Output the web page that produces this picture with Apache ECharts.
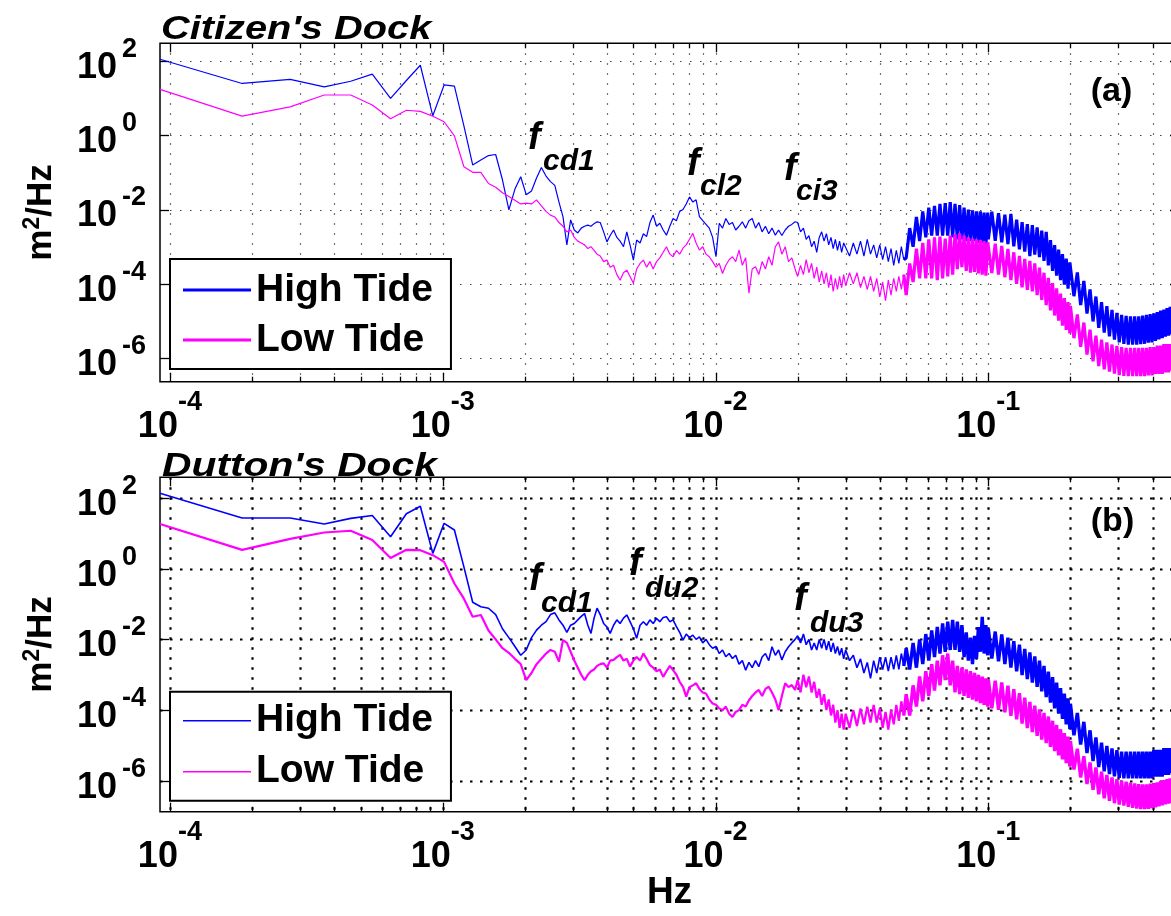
<!DOCTYPE html>
<html>
<head>
<meta charset="utf-8">
<script src="https://cdn.jsdelivr.net/npm/echarts@6/dist/echarts.min.js"></script>
<style>
html,body{margin:0;padding:0;background:#fff;}
#chart{width:1171px;height:916px;}
</style>
</head>
<body>
<div id="chart"></div>
<script>
// ---------------- DATA ----------------
// Frequency bins (Hz), shared by all four spectra
const freqHz = [
 9.2e-5,1.84e-4,2.76e-4,3.68e-4,4.6e-4,5.52e-4,6.44e-4,7.36e-4,8.28e-4,9.2e-4,
 1.012e-3,1.104e-3,1.196e-3,1.288e-3,1.38e-3,1.472e-3,1.564e-3,1.656e-3,1.748e-3,1.84e-3,
 1.932e-3,2.024e-3,2.116e-3,2.208e-3,2.3e-3,2.392e-3,2.484e-3,2.576e-3,2.668e-3,2.76e-3,
 2.852e-3,2.944e-3,3.036e-3,3.128e-3,3.22e-3,3.312e-3,3.404e-3,3.496e-3,3.588e-3,3.68e-3,
 3.78e-3,3.89e-3,4.0e-3,4.11e-3,4.23e-3,4.35e-3,4.47e-3,4.6e-3,4.73e-3,4.86e-3,
 5.0e-3,5.14e-3,5.29e-3,5.44e-3,5.59e-3,5.75e-3,5.91e-3,6.08e-3,6.25e-3,6.43e-3,
 6.61e-3,6.8e-3,6.99e-3,7.19e-3,7.39e-3,7.6e-3,7.81e-3,8.03e-3,8.26e-3,8.49e-3,
 8.73e-3,8.98e-3,9.23e-3,9.49e-3,9.76e-3,1.004e-2,1.032e-2,1.061e-2,1.091e-2,1.122e-2,
 1.154e-2,1.186e-2,1.22e-2,1.254e-2,1.29e-2,1.326e-2,1.363e-2,1.402e-2,1.441e-2,1.482e-2,
 1.524e-2,1.567e-2,1.611e-2,1.657e-2,1.703e-2,1.751e-2,1.801e-2,1.852e-2,1.904e-2,1.958e-2,
 0.0200,0.0205,0.0210,0.0215,0.0220,0.0225,0.0230,0.0235,0.0240,0.0245,
 0.0250,0.0255,0.0260,0.0265,0.0270,0.0275,0.0280,0.0285,0.0290,0.0295,
 0.030,0.031,0.032,0.033,0.034,0.035,0.036,0.037,0.038,0.039,
 0.040,0.041,0.042,0.043,0.044,0.045,0.046,0.047,0.048,0.049,
 0.0500,0.0515,0.0530,0.0545,0.0560,0.0575,0.0590,0.0605,0.0620,0.0635,
 0.0650,0.0665,0.0680,0.0695,0.0710,0.0725,0.0740,0.0755,0.0770,0.0785,
 0.0800,0.0815,0.0830,0.0845,0.0860,0.0875,0.0890,0.0905,0.0920,0.0935,
 0.0950,0.0965,0.0980,0.0995,
 0.100,0.103,0.106,0.109,0.112,0.115,0.118,0.121,0.124,0.127,
 0.130,0.133,0.136,0.139,0.142,0.145,0.148,0.151,0.154,0.157,
 0.160,0.163,0.166,0.169,0.172,0.175,0.178,0.181,0.184,0.187,
 0.190,0.193,0.196,0.199,
 0.200,0.206,0.212,0.218,0.224,0.230,0.236,0.242,0.248,0.254,
 0.260,0.266,0.272,0.278,0.284,0.290,0.296,0.302,0.308,0.314,
 0.320,0.326,0.332,0.338,0.344,0.350,0.356,0.362,0.368,0.374,
 0.380,0.386,0.392,0.398,0.404,0.410,0.416,0.422,0.428,0.434,
 0.440,0.446,0.452,0.458,0.464,0.470,0.476,0.482,0.488,0.494,
 0.500
];

// PSD values, stored as log10(m^2/Hz)
const citizenHighTideLog10 = [
 2.04,1.39,1.50,1.30,1.45,1.64,0.99,1.47,1.88,0.52,
 1.35,1.32,0.25,-0.80,-0.67,-0.55,-0.52,-1.20,-2.01,-1.45,
 -1.12,-1.60,-1.50,-1.15,-0.87,-1.10,-1.25,-1.35,-1.80,-2.19,
 -2.95,-2.28,-2.55,-2.63,-2.50,-2.45,-2.42,-2.45,-2.38,-2.33,
 -2.35,-2.60,-2.87,-2.70,-2.55,-2.75,-2.85,-3.00,-2.60,-2.95,
 -3.36,-2.82,-2.90,-2.65,-2.73,-2.35,-2.15,-2.45,-2.37,-2.55,
 -2.69,-2.45,-2.24,-2.30,-2.05,-2.00,-1.85,-1.66,-1.80,-1.74,
 -2.19,-2.30,-2.40,-2.50,-2.75,-3.27,-2.37,-2.50,-2.24,-2.40,
 -2.35,-2.55,-2.45,-2.33,-2.50,-2.30,-2.24,-2.50,-2.35,-2.60,
 -2.45,-2.65,-2.50,-2.69,-2.55,-2.70,-2.55,-2.45,-2.40,-2.33,
 -2.35,-2.60,-2.50,-2.80,-2.70,-3.00,-2.85,-3.15,-2.75,-2.60,
 -2.85,-2.65,-2.95,-2.75,-3.05,-2.80,-3.10,-2.85,-3.15,-2.90,
 -2.85,-3.25,-2.90,-3.20,-2.85,-3.25,-2.80,-3.20,-2.95,-3.30,
 -2.95,-3.35,-3.00,-3.40,-3.05,-3.50,-3.10,-3.45,-3.00,-3.35,
 -3.30,-2.50,-3.00,-2.20,-2.85,-2.05,-2.75,-1.95,-2.70,-1.90,
 -2.70,-1.85,-2.70,-1.83,-2.70,-1.80,-2.75,-1.85,-2.80,-1.88,
 -2.80,-1.95,-2.85,-2.00,-2.85,-2.02,-2.85,-2.05,-2.90,-2.05,
 -2.90,-2.08,-2.95,-2.08,
 -2.80,-2.06,-2.84,-2.10,-2.88,-2.14,-2.93,-2.12,-2.99,-2.27,
 -3.07,-2.34,-3.13,-2.39,-3.25,-2.42,-3.21,-2.48,-3.28,-2.57,
 -3.38,-2.60,-3.50,-2.82,-3.65,-2.96,-3.78,-3.08,-3.90,-3.20,
 -4.02,-3.32,-4.13,-3.42,
 -3.45,-4.33,-3.69,-4.57,-3.92,-4.80,-4.15,-5.01,-4.34,-5.18,
 -4.49,-5.31,-4.60,-5.41,-4.70,-5.50,-4.78,-5.57,-4.83,-5.61,
 -4.86,-5.63,-4.87,-5.63,-4.87,-5.63,-4.87,-5.62,-4.85,-5.61,
 -4.83,-5.58,-4.81,-5.57,-4.79,-5.53,-4.76,-5.49,-4.72,-5.46,
 -4.69,-5.42,-4.65,-5.39,-4.62,-5.36,-4.59,-5.33,-4.58,-5.31,
 -4.57
];

const citizenLowTideLog10 = [
 1.23,0.51,0.76,1.08,1.08,0.81,0.44,0.67,0.64,0.51,
 0.36,-0.02,-0.85,-1.00,-1.00,-1.30,-1.40,-1.55,-1.65,-1.75,
 -1.85,-1.83,-1.85,-1.74,-1.90,-2.05,-2.15,-2.20,-2.35,-2.45,
 -2.60,-2.55,-2.75,-2.85,-2.90,-2.95,-3.05,-3.00,-3.10,-3.20,
 -3.25,-3.40,-3.36,-3.55,-3.50,-3.75,-3.90,-3.70,-3.63,-3.80,
 -3.98,-3.60,-3.45,-3.36,-3.55,-3.40,-3.60,-3.40,-3.30,-3.15,
 -3.00,-3.20,-3.27,-3.10,-3.20,-3.04,-2.95,-2.80,-2.64,-2.90,
 -3.09,-3.00,-3.20,-3.27,-3.40,-3.55,-3.45,-3.72,-3.50,-3.35,
 -3.27,-3.40,-3.09,-3.50,-3.30,-4.25,-3.60,-3.54,-3.75,-3.40,
 -3.60,-3.27,-3.50,-3.00,-2.87,-3.20,-3.00,-3.40,-3.30,-3.60,
 -3.80,-3.50,-3.75,-3.35,-3.70,-3.45,-3.85,-3.55,-3.95,-3.65,
 -4.00,-3.70,-4.10,-3.75,-4.20,-3.85,-4.15,-3.80,-4.10,-3.75,
 -4.05,-3.70,-4.00,-3.70,-4.10,-3.80,-4.15,-3.80,-4.20,-3.85,
 -4.35,-3.95,-4.45,-3.90,-4.30,-3.85,-4.20,-3.80,-4.15,-3.75,
 -4.30,-3.45,-3.95,-3.05,-3.85,-2.90,-3.85,-2.80,-3.85,-2.75,
 -3.90,-2.73,-3.85,-2.78,-3.80,-2.70,-3.75,-2.66,-3.60,-2.64,
 -3.55,-2.70,-3.65,-2.75,-3.70,-2.78,-3.68,-2.80,-3.72,-2.82,
 -3.75,-2.85,-3.78,-2.88,
 -2.90,-3.71,-2.92,-3.75,-2.98,-3.82,-3.06,-3.90,-3.15,-4.00,
 -3.25,-4.09,-3.33,-4.16,-3.38,-4.20,-3.45,-4.30,-3.56,-4.43,
 -3.70,-4.57,-3.84,-4.71,-3.98,-4.85,-4.12,-4.99,-4.26,-5.12,
 -4.38,-5.24,-4.49,-5.33,
 -4.59,-5.46,-4.82,-5.69,-5.04,-5.90,-5.23,-6.08,-5.39,-6.21,
 -5.50,-6.30,-5.57,-6.36,-5.63,-6.41,-5.67,-6.45,-5.70,-6.47,
 -5.72,-6.48,-5.72,-6.48,-5.72,-6.48,-5.72,-6.48,-5.72,-6.48,
 -5.72,-6.46,-5.70,-6.46,-5.70,-6.42,-5.66,-6.42,-5.66,-6.42,
 -5.62,-6.38,-5.62,-6.38,-5.62,-6.33,-5.57,-6.33,-5.57,-6.33,
 -5.57
];

const duttonHighTideLog10 = [
 2.13,1.43,1.43,1.26,1.42,1.50,0.90,1.55,1.76,0.43,
 1.28,1.09,0.05,-0.95,-1.08,-1.12,-1.30,-1.70,-1.95,-2.20,
 -2.45,-2.30,-1.95,-1.74,-1.60,-1.50,-1.30,-1.25,-1.45,-1.60,
 -1.80,-1.60,-1.55,-1.45,-1.35,-1.27,-1.60,-1.83,-1.40,-1.12,
 -1.30,-1.55,-1.65,-1.83,-1.60,-1.45,-1.55,-1.40,-1.31,-1.50,
 -1.70,-1.97,-1.60,-1.50,-1.60,-1.45,-1.55,-1.41,-1.50,-1.38,
 -1.36,-1.50,-1.45,-1.64,-1.80,-2.02,-1.85,-1.95,-1.88,-2.00,
 -1.93,-2.10,-2.00,-2.15,-2.25,-2.20,-2.40,-2.30,-2.49,-2.40,
 -2.54,-2.45,-2.70,-2.60,-2.87,-2.65,-2.80,-2.60,-2.77,-2.50,
 -2.40,-2.60,-2.21,-2.45,-2.30,-2.58,-2.35,-2.21,-2.10,-2.00,
 -1.90,-2.10,-1.85,-2.15,-2.00,-2.30,-2.10,-2.30,-2.00,-2.25,
 -2.00,-2.30,-2.05,-2.35,-2.10,-2.40,-2.20,-2.45,-2.25,-2.55,
 -2.30,-2.60,-2.45,-2.80,-2.55,-2.95,-2.65,-3.10,-2.60,-2.95,
 -2.50,-2.85,-2.50,-2.90,-2.50,-2.85,-2.45,-2.85,-2.40,-2.75,
 -2.25,-2.85,-2.10,-2.80,-2.00,-2.70,-1.85,-2.60,-1.75,-2.50,
 -1.65,-2.40,-1.55,-2.35,-1.50,-2.30,-1.45,-2.30,-1.50,-2.35,
 -1.60,-2.50,-1.80,-2.60,-1.95,-2.70,-1.90,-2.55,-1.65,-2.35,
 -1.36,-2.40,-1.60,-2.45,
 -1.70,-2.54,-1.78,-2.62,-1.86,-2.70,-1.95,-2.80,-2.05,-2.90,
 -2.15,-3.01,-2.27,-3.12,-2.37,-3.22,-2.48,-3.34,-2.60,-3.47,
 -2.75,-3.63,-2.91,-3.79,-3.07,-3.95,-3.22,-4.10,-3.38,-4.25,
 -3.53,-4.40,-3.67,-4.54,
 -3.82,-4.71,-4.08,-4.97,-4.33,-5.21,-4.57,-5.44,-4.77,-5.61,
 -4.92,-5.73,-5.01,-5.81,-5.08,-5.87,-5.13,-5.91,-5.17,-5.93,
 -5.17,-5.93,-5.17,-5.93,-5.17,-5.93,-5.17,-5.93,-5.17,-5.93,
 -5.17,-5.93,-5.17,-5.93,-5.12,-5.88,-5.12,-5.88,-5.12,-5.88,
 -5.07,-5.83,-5.07,-5.83,-5.07,-5.78,-5.02,-5.78,-5.02,-5.78,
 -5.02
];

const duttonLowTideLog10 = [
 1.26,0.53,0.84,1.02,1.07,0.81,0.30,0.53,0.52,0.38,
 0.19,-0.42,-0.85,-1.36,-1.31,-1.75,-2.00,-2.25,-2.38,-2.55,
 -2.70,-3.15,-2.95,-2.70,-2.55,-2.40,-2.30,-2.35,-2.63,-2.02,
 -2.10,-2.35,-2.60,-2.80,-3.00,-3.15,-3.00,-2.90,-2.85,-2.75,
 -2.70,-2.68,-2.80,-2.60,-2.58,-2.50,-2.44,-2.60,-2.55,-2.77,
 -2.60,-2.50,-2.60,-2.40,-2.55,-2.73,-2.80,-2.90,-2.85,-3.06,
 -2.90,-2.75,-2.87,-3.00,-3.20,-3.34,-3.62,-3.35,-3.30,-3.24,
 -3.40,-3.50,-3.53,-3.70,-3.81,-3.85,-3.95,-4.00,-3.90,-4.10,
 -4.19,-4.05,-4.00,-3.85,-3.90,-3.72,-3.60,-3.50,-3.43,-3.60,
 -3.40,-3.34,-3.50,-3.70,-4.00,-3.60,-3.24,-3.35,-3.29,-3.43,
 -3.15,-3.50,-3.00,-3.35,-3.05,-3.50,-3.20,-3.65,-3.40,-3.85,
 -3.55,-4.00,-3.70,-4.15,-3.85,-4.35,-4.00,-4.50,-4.10,-4.55,
 -4.10,-4.50,-4.00,-4.45,-3.95,-4.40,-3.90,-4.35,-3.85,-4.35,
 -3.95,-4.50,-4.05,-4.55,-4.00,-4.40,-3.85,-4.30,-3.75,-4.15,
 -3.55,-4.15,-3.30,-3.90,-3.05,-3.75,-2.90,-3.60,-2.70,-3.45,
 -2.60,-3.30,-2.45,-3.15,-2.40,-3.30,-2.60,-3.50,-2.75,-3.55,
 -2.80,-3.60,-2.85,-3.65,-2.90,-3.70,-2.95,-3.75,-3.00,-3.80,
 -3.05,-3.85,-3.10,-3.90,
 -3.13,-3.95,-3.17,-3.99,-3.22,-4.06,-3.31,-4.16,-3.41,-4.26,
 -3.52,-4.38,-3.65,-4.51,-3.77,-4.62,-3.87,-4.73,-3.98,-4.83,
 -4.08,-4.93,-4.18,-5.04,-4.30,-5.16,-4.42,-5.28,-4.54,-5.39,
 -4.65,-5.50,-4.75,-5.60,
 -4.87,-5.68,-5.09,-5.90,-5.30,-6.09,-5.48,-6.25,-5.62,-6.38,
 -5.74,-6.49,-5.83,-6.56,-5.90,-6.63,-5.95,-6.67,-5.99,-6.70,
 -6.02,-6.73,-6.05,-6.76,-6.07,-6.78,-6.09,-6.80,-6.10,-6.80,
 -6.10,-6.79,-6.08,-6.77,-6.06,-6.75,-6.04,-6.72,-6.00,-6.69,
 -5.98,-6.66,-5.95,-6.64,-5.93,-6.62,-5.91,-6.60,-5.90,-6.59,
 -5.89
];

// Axis ticks
const xTickFreqs = [
 1e-4,2e-4,3e-4,4e-4,5e-4,6e-4,7e-4,8e-4,9e-4,
 1e-3,2e-3,3e-3,4e-3,5e-3,6e-3,7e-3,8e-3,9e-3,
 1e-2,2e-2,3e-2,4e-2,5e-2,6e-2,7e-2,8e-2,9e-2,
 1e-1,2e-1,3e-1,4e-1
];
const xMajorFreqs = [1e-4,1e-3,1e-2,1e-1];
const yMajorTicks = [1e-6,1e-4,1e-2,1,1e2];
const xLimits = [9.2e-5, 0.5];
const yLimitsCitizen = [Math.pow(10,-6.63), Math.pow(10,2.47)];
const yLimitsDutton = [Math.pow(10,-6.87), Math.pow(10,2.58)];
const seriesNames = ['High Tide','Low Tide'];
const denseBandStartHz = 0.049;   // above this the spectra form a dense band

// ---------------- CHART ----------------
[citizenHighTideLog10,citizenLowTideLog10,duttonHighTideLog10,duttonLowTideLog10].forEach(function(a,i){
  if (a.length !== freqHz.length) console.error('length mismatch', i, a.length, freqHz.length);
});

const FONT = '"Liberation Sans", Arial, sans-serif';
const BLUE = '#0000ff';
const PINK = '#ff00ff';
const bandIdx = freqHz.indexOf(denseBandStartHz);

function toPairs(logArr){
  return freqHz.map(function(f,i){ return [f, Math.pow(10, logArr[i])]; });
}

function decadeX(v){
  const e = Math.log10(v), r = Math.round(e);
  if (Math.abs(e-r) > 1e-6) return '';
  return '{b|10}{s|' + r + '}';
}
function decadeY(v){
  const e = Math.log10(v), r = Math.round(e);
  if (Math.abs(e-r) > 1e-6 || r % 2 !== 0) return '';
  return '{b|10}{s|' + r + '}';
}

const xRich = {
  b:{fontSize:36,fontWeight:'bold',fontFamily:FONT,color:'#000',lineHeight:56,verticalAlign:'bottom'},
  s:{fontSize:27,fontWeight:'bold',fontFamily:FONT,color:'#000',lineHeight:56,verticalAlign:'top'}
};
const yRich = {
  b:{fontSize:36,fontWeight:'bold',fontFamily:FONT,color:'#000',lineHeight:50,verticalAlign:'bottom'},
  s:{fontSize:27,fontWeight:'bold',fontFamily:FONT,color:'#000',lineHeight:50,verticalAlign:'top',padding:[0,0,0,5]}
};

function makeXAxis(gridIndex, withName){
  const ax = {
    type:'log', logBase:10, gridIndex:gridIndex,
    min:xLimits[0], max:xLimits[1],
    axisLine:{show:false}, axisTick:{show:false}, splitLine:{show:false}, minorTick:{show:false},
    axisLabel:{formatter:decadeX, rich:xRich, margin:7, lineHeight:56, color:'#000'}
  };
  if (withName){
    ax.name = 'Hz';
    ax.nameLocation = 'middle';
    ax.nameGap = 61;
    ax.nameMoveOverlap = false;
    ax.nameTextStyle = {fontSize:37,fontWeight:'bold',fontFamily:FONT,color:'#000',lineHeight:40};
  }
  return ax;
}
function makeYAxis(gridIndex, lim){
  return {
    type:'log', logBase:10, gridIndex:gridIndex,
    min:lim[0], max:lim[1],
    axisLine:{show:false}, axisTick:{show:false}, splitLine:{show:false}, minorTick:{show:false},
    axisLabel:{formatter:decadeY, rich:yRich, margin:83, align:'left', lineHeight:50, color:'#000'},
    name:'{n|m}{s|2}{n|/Hz}', nameLocation:'middle', nameRotate:90, nameGap:101, nameMoveOverlap:false,
    nameTextStyle:{fontSize:35,fontWeight:'bold',fontFamily:FONT,color:'#000',lineHeight:38,
      rich:{
        n:{fontSize:35,fontWeight:'bold',fontFamily:FONT,color:'#000',lineHeight:38,verticalAlign:'bottom'},
        s:{fontSize:23,fontWeight:'bold',fontFamily:FONT,color:'#000',lineHeight:38,verticalAlign:'top'}
      }}
  };
}

function xDeco(gridIdx, gs){
  return {
    type:'custom', xAxisIndex:gridIdx, yAxisIndex:gridIdx, z:1, silent:true,
    encode:{x:0,y:1},
    data: xTickFreqs.map(function(f){ return [f, 1, xMajorFreqs.indexOf(f) >= 0 ? 1 : 0]; }),
    renderItem:function(params, api){
      const cs = params.coordSys;
      const x = Math.round(api.coord([api.value(0), api.value(1)])[0]) + 0.5;
      const top = cs.y, bot = cs.y + cs.height;
      const len = api.value(2) === 1 ? 9 : 5;
      return {type:'group', children:[
        {type:'line', shape:{x1:x,y1:top,x2:x,y2:bot}, style:{stroke:gs.color,lineWidth:gs.width,lineDash:gs.dash}},
        {type:'line', shape:{x1:x,y1:bot,x2:x,y2:bot-len}, style:{stroke:'#000',lineWidth:1.3}},
        {type:'line', shape:{x1:x,y1:top,x2:x,y2:top+len}, style:{stroke:'#000',lineWidth:1.3}}
      ]};
    }
  };
}
function yDeco(gridIdx, gs){
  return {
    type:'custom', xAxisIndex:gridIdx, yAxisIndex:gridIdx, z:1, silent:true,
    encode:{x:0,y:1},
    data: yMajorTicks.map(function(v){ return [1e-3, v]; }),
    renderItem:function(params, api){
      const cs = params.coordSys;
      const y = Math.round(api.coord([api.value(0), api.value(1)])[1]) + 0.5;
      const l = cs.x, r = cs.x + cs.width;
      return {type:'group', children:[
        {type:'line', shape:{x1:l,y1:y,x2:r,y2:y}, style:{stroke:gs.color,lineWidth:gs.width,lineDash:gs.dash}},
        {type:'line', shape:{x1:l,y1:y,x2:l+9,y2:y}, style:{stroke:'#000',lineWidth:1.3}},
        {type:'line', shape:{x1:r,y1:y,x2:r-9,y2:y}, style:{stroke:'#000',lineWidth:1.3}}
      ]};
    }
  };
}

// One spectrum = thin line for the sparse part + the dense noisy band above ~0.05 Hz
function spectrum(name, gridIdx, logArr, color, wSparse, wBand){
  const pairs = toPairs(logArr);
  const common = {type:'line', name:name, xAxisIndex:gridIdx, yAxisIndex:gridIdx,
    showSymbol:false, symbol:'none', sampling:null, itemStyle:{color:color}, z:3,
    emphasis:{disabled:true}};
  return [
    Object.assign({}, common, {data:pairs.slice(0, bandIdx + 1), lineStyle:{color:color, width:wSparse}}),
    Object.assign({}, common, {data:pairs.slice(bandIdx), lineStyle:{color:color, width:wBand, join:'bevel'}})
  ];
}

function legendFor(top, padding, gap, lh){
  return {
    orient:'vertical', left:170, top:top, data:seriesNames,
    icon:'rect', itemWidth:68, itemHeight:lh, itemGap:gap, padding:padding,
    borderColor:'#000', borderWidth:2, backgroundColor:'#fff', selectedMode:false, z:10,
    textStyle:{fontFamily:FONT, fontWeight:'bold', fontSize:39, color:'#000', lineHeight:44}
  };
}

const gridStyleA = {color:'#444', width:1.2, dash:[1.5,8.5]};
const gridStyleB = {color:'#000', width:2.2, dash:[2.5,7.5]};

function textEl(x, y, text, font, extra){
  const el = {type:'text', x:x, y:y, z:20, silent:true,
    style:{text:text, font:font, fill:'#000', verticalAlign:'middle', align:'left'}};
  if (extra) Object.assign(el, extra);
  return el;
}
const TF = function(sz){ return 'italic bold ' + sz + 'px ' + FONT; };
const BF = function(sz){ return 'bold ' + sz + 'px ' + FONT; };

const option = {
  backgroundColor:'#fff',
  animation:false,
  grid:[
    {left:160, top:43.3, width:1019, height:338.4, show:true, borderColor:'#000', borderWidth:1.5, backgroundColor:'transparent', containLabel:false, outerBoundsMode:'none'},
    {left:160, top:477.3, width:1019, height:334.4, show:true, borderColor:'#000', borderWidth:1.5, backgroundColor:'transparent', containLabel:false, outerBoundsMode:'none'}
  ],
  xAxis:[ makeXAxis(0,false), makeXAxis(1,true) ],
  yAxis:[ makeYAxis(0, yLimitsCitizen), makeYAxis(1, yLimitsDutton) ],
  legend:[
    legendFor(259, [9,18,7,13], 6, 3),
    legendFor(691.7, [7,18,7,13], 7, 1.5)
  ],
  series:[].concat(
    [xDeco(0, gridStyleA), yDeco(0, gridStyleA), xDeco(1, gridStyleB), yDeco(1, gridStyleB)],
    spectrum('High Tide', 0, citizenHighTideLog10, BLUE, 1.2, 3.2),
    spectrum('Low Tide', 0, citizenLowTideLog10, PINK, 1.2, 3.2),
    spectrum('High Tide', 1, duttonHighTideLog10, BLUE, 1.6, 3.4),
    spectrum('Low Tide', 1, duttonLowTideLog10, PINK, 2.2, 3.4)
  ),
  graphic:[
    textEl(161, 29.8, "Citizen's Dock", TF(34), {scaleX:1.17}),
    textEl(162, 466.8, "Dutton's Dock", TF(34), {scaleX:1.2}),
    textEl(528, 138.3, 'f', TF(38)), textEl(543, 162.2, 'cd1', TF(30)),
    textEl(687, 164.3, 'f', TF(38)), textEl(700, 187.2, 'cl2', TF(30)),
    textEl(784, 169.3, 'f', TF(38)), textEl(796, 192.2, 'ci3', TF(30)),
    textEl(529, 579.3, 'f', TF(38)), textEl(541, 604.2, 'cd1', TF(30)),
    textEl(629, 564.3, 'f', TF(38)), textEl(645, 589.2, 'du2', TF(30)),
    textEl(794, 599.3, 'f', TF(38)), textEl(810, 624.2, 'du3', TF(30)),
    {type:'text', x:1111.5, y:92, z:20, silent:true, style:{text:'(a)', font:BF(34), fill:'#000', align:'center', verticalAlign:'middle'}},
    {type:'text', x:1112.5, y:522, z:20, silent:true, style:{text:'(b)', font:BF(34), fill:'#000', align:'center', verticalAlign:'middle'}}
  ]
};

const chart = echarts.init(document.getElementById('chart'), null, {renderer:'canvas'});
chart.setOption(option);
</script>
</body>
</html>
